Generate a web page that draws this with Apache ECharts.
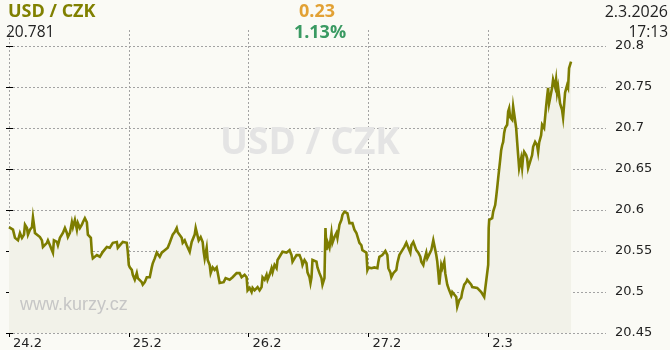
<!DOCTYPE html>
<html><head><meta charset="utf-8">
<script src="https://cdn.jsdelivr.net/npm/echarts@6/dist/echarts.min.js"></script>
<style>html,body{margin:0;padding:0;background:#fafaf5}#c{width:670px;height:350px}</style>
</head><body><div id="c"></div>
<script>
// Trading-day start positions (hours on a compressed trading timeline) and their labels
const dayStarts = [0, 24, 48, 72, 96];
const dayLabels = ['24.2', '25.2', '26.2', '27.2', '2.3'];
const yTicks = [20.45, 20.5, 20.55, 20.6, 20.65, 20.7, 20.75, 20.8];

// Header info
const pairName = 'USD / CZK';
const lastRate = '20.781';
const change = '0.23';
const changePct = '1.13%';
const lastDate = '2.3.2026';
const lastTime = '17:13';

// time (hours since 24.2 00:00, weekend removed)
const hours = [
 0.0,0.2,0.8,1.2,1.8,2.2,2.6,3.0,3.2,3.6,3.8,4.2,4.6,4.8,5.0,5.2,5.6,6.2,6.6,6.8,7.6,7.8,8.2,8.6,8.8,9.0,9.6,9.8,10.2,10.8,11.2,11.6,11.8,12.2,12.6,12.8,13.2,13.6,13.8,14.2,14.6,14.8,15.2,15.6,15.8,16.0,16.4,16.6,16.8,17.6,18.2,18.8,19.2,19.6,20.2,20.8,21.6,21.8,22.2,22.8,23.6,23.8,
 24.0,24.2,24.6,24.8,25.2,25.6,25.8,26.2,26.6,26.8,27.2,27.6,27.8,28.2,28.6,28.8,29.2,29.6,29.8,30.2,30.6,31.2,31.8,32.2,32.6,32.8,33.2,33.6,33.8,34.2,34.6,34.8,35.2,35.6,35.8,36.2,36.6,36.8,37.2,37.4,37.6,38.0,38.4,38.8,39.0,39.2,39.6,39.8,40.2,40.4,40.8,41.2,41.6,41.8,42.2,42.6,43.0,43.4,43.8,44.2,44.8,45.6,46.2,46.6,47.2,47.6,
 47.8,48.2,48.6,48.8,49.2,49.6,49.8,50.2,50.6,50.8,51.2,51.6,51.8,52.2,52.6,52.8,53.2,53.6,53.8,54.2,54.6,54.8,55.2,55.6,55.8,56.2,56.6,56.8,57.2,57.6,57.8,58.2,58.6,58.8,59.2,59.6,59.8,60.2,60.4,60.6,60.8,61.2,61.6,61.8,62.2,62.6,62.8,63.2,63.4,63.6,63.8,64.2,64.6,64.8,65.2,65.6,65.8,66.2,66.6,66.8,67.2,67.6,67.8,68.2,68.6,68.8,69.2,69.6,69.8,70.2,70.6,70.8,71.2,71.6,
 71.8,72.0,72.6,72.8,73.2,73.6,73.8,74.0,74.2,74.6,74.8,75.2,75.4,75.8,76.0,76.4,76.6,77.0,77.6,77.8,78.2,78.6,78.8,79.2,79.6,79.8,80.0,80.4,80.6,81.0,81.6,82.0,82.4,82.6,83.0,83.2,83.6,83.8,84.2,84.6,84.8,85.0,85.4,85.6,85.8,86.0,86.2,86.6,86.8,87.2,87.4,87.8,88.2,88.6,88.8,89.2,89.6,89.8,90.2,90.6,90.8,91.2,91.6,91.8,92.2,92.6,92.8,93.2,93.8,94.2,94.6,94.8,95.2,95.6,
 96.0,96.1,96.2,96.8,97.0,97.4,97.6,97.8,98.0,98.4,98.6,98.8,99.0,99.2,99.4,99.8,100.0,100.2,100.4,100.8,101.0,101.4,101.6,101.8,102.0,102.2,102.6,102.8,103.0,103.2,103.6,103.8,104.0,104.4,104.8,105.0,105.4,105.8,106.0,106.2,106.6,106.8,107.2,107.6,107.8,108.0,108.2,108.6,108.8,109.0,109.4,109.6,109.8,110.0,110.4,110.8,111.0,111.2,111.4,111.8,112.0,112.2,112.6
];
const rates = [
 20.579,20.577,20.576,20.566,20.563,20.572,20.566,20.570,20.582,20.578,20.570,20.576,20.579,20.591,20.582,20.572,20.570,20.567,20.563,20.555,20.560,20.563,20.557,20.551,20.548,20.563,20.561,20.557,20.566,20.572,20.578,20.572,20.567,20.572,20.585,20.579,20.588,20.576,20.584,20.578,20.582,20.585,20.590,20.585,20.570,20.572,20.566,20.548,20.541,20.545,20.543,20.549,20.548,20.555,20.554,20.560,20.561,20.554,20.555,20.561,20.560,20.549,
 20.533,20.530,20.527,20.521,20.515,20.523,20.517,20.515,20.512,20.509,20.512,20.518,20.517,20.518,20.530,20.535,20.541,20.548,20.549,20.543,20.548,20.551,20.554,20.560,20.560,20.570,20.573,20.578,20.573,20.572,20.566,20.560,20.563,20.557,20.557,20.549,20.561,20.561,20.570,20.578,20.576,20.563,20.567,20.561,20.549,20.541,20.554,20.539,20.533,20.523,20.530,20.527,20.530,20.524,20.511,20.509,20.512,20.517,20.518,20.515,20.518,20.523,20.523,20.518,20.521,20.518,
 20.502,20.505,20.500,20.505,20.502,20.500,20.506,20.502,20.506,20.518,20.515,20.521,20.515,20.521,20.529,20.524,20.533,20.529,20.539,20.543,20.545,20.549,20.551,20.548,20.549,20.551,20.545,20.537,20.541,20.545,20.543,20.545,20.539,20.533,20.539,20.535,20.524,20.518,20.511,20.518,20.539,20.537,20.537,20.530,20.523,20.517,20.509,20.517,20.578,20.551,20.561,20.554,20.572,20.560,20.567,20.572,20.566,20.582,20.588,20.594,20.598,20.600,20.596,20.584,20.582,20.584,20.576,20.572,20.570,20.560,20.557,20.551,20.549,20.548,
 20.527,20.530,20.529,20.527,20.530,20.529,20.529,20.537,20.543,20.541,20.545,20.543,20.550,20.545,20.529,20.524,20.518,20.523,20.527,20.535,20.545,20.543,20.551,20.555,20.560,20.562,20.554,20.548,20.557,20.561,20.551,20.548,20.543,20.537,20.533,20.539,20.548,20.541,20.543,20.551,20.557,20.563,20.561,20.545,20.537,20.524,20.509,20.533,20.529,20.537,20.523,20.509,20.502,20.496,20.500,20.502,20.494,20.482,20.490,20.493,20.500,20.509,20.512,20.515,20.515,20.509,20.506,20.506,20.505,20.505,20.500,20.499,20.494,20.496,
 20.533,20.578,20.588,20.590,20.598,20.606,20.616,20.627,20.639,20.661,20.673,20.679,20.683,20.694,20.700,20.704,20.720,20.724,20.713,20.710,20.726,20.728,20.700,20.683,20.667,20.651,20.663,20.652,20.665,20.671,20.667,20.663,20.651,20.659,20.667,20.677,20.683,20.679,20.671,20.682,20.691,20.704,20.700,20.726,20.738,20.749,20.730,20.728,20.749,20.759,20.750,20.759,20.743,20.750,20.730,20.722,20.713,20.728,20.743,20.752,20.749,20.773,20.781
];

const chart = echarts.init(document.getElementById('c'), null, {renderer: 'canvas'});
const data = hours.map((h, i) => [h, rates[i]]);
const gridColor = '#a3a3a3';
const axisFont = '"DejaVu Sans", Verdana, sans-serif';
const headFont = '"Open Sans", sans-serif';

chart.setOption({
  backgroundColor: '#fafaf5',
  animation: false,
  grid: {left: 9, right: 64, top: 30, bottom: 17, containLabel: false},
  xAxis: {
    type: 'value', min: 0, max: 119.6,
    axisLine: {show: false},
    axisTick: {show: true, length: 4, lineStyle: {color: '#000'}, customValues: dayStarts},
    axisLabel: {customValues: dayStarts, color: '#222', fontFamily: axisFont, fontSize: 13,
      align: 'left', margin: 4, padding: [0, 0, 0, 4],
      formatter: v => { const i = dayStarts.indexOf(v); return i >= 0 ? dayLabels[i] : ''; }},
    splitLine: {show: true, lineStyle: {color: gridColor, type: [2, 2], width: 1}}
  },
  yAxis: [{
    type: 'value', position: 'right', min: 20.45, max: 20.8 + 16 / 820,
    axisLine: {show: false},
    axisTick: {show: true, inside: true, length: 3, lineStyle: {color: '#000'}, customValues: yTicks},
    axisLabel: {customValues: yTicks, color: '#222', fontFamily: axisFont, fontSize: 13, margin: 9,
      formatter: v => String(+(+v).toFixed(2))},
    splitLine: {show: true, lineStyle: {color: gridColor, type: [2, 2], width: 1}}
  }, {
    type: 'value', position: 'left', min: 20.45, max: 20.8 + 16 / 820,
    axisLine: {show: false},
    axisTick: {show: true, inside: true, length: 4, lineStyle: {color: '#000'}, customValues: yTicks},
    axisLabel: {show: false},
    splitLine: {show: false}
  }],
  series: [{
    type: 'line', data: data, yAxisIndex: 0, showSymbol: false, symbol: 'none',
    lineStyle: {color: '#7d7d00', width: 2.6, join: 'miter'},
    areaStyle: {color: '#f2f2e9', opacity: 1, origin: 'start'},
    z: 3
  }],
  graphic: {elements: [
    {type: 'text', z: 100, style: {text: pairName, x: 310, y: 143, align: 'center', verticalAlign: 'middle', font: 'bold 37px ' + headFont, fill: '#e4e4e4'}},
    {type: 'text', z: 100, style: {text: 'www.kurzy.cz', x: 20, y: 305, align: 'left', verticalAlign: 'middle', font: '18px "Liberation Sans", Arial, sans-serif', fill: '#c6c6c6'}},
    {type: 'text', z: 100, style: {text: pairName, x: 8, y: 12, align: 'left', verticalAlign: 'middle', font: 'bold 18px ' + headFont, fill: '#808000'}},
    {type: 'text', z: 100, style: {text: change, x: 317, y: 12, align: 'center', verticalAlign: 'middle', font: 'bold 18px ' + headFont, fill: '#e2a134'}},
    {type: 'text', z: 100, style: {text: lastDate, x: 668, y: 12, align: 'right', verticalAlign: 'middle', font: '16px ' + headFont, fill: '#222'}},
    {type: 'text', z: 100, style: {text: lastRate, x: 6, y: 33, align: 'left', verticalAlign: 'middle', font: '15.5px ' + headFont, fill: '#222'}},
    {type: 'text', z: 100, style: {text: changePct, x: 320, y: 33, align: 'center', verticalAlign: 'middle', font: 'bold 18px ' + headFont, fill: '#3a9a62'}},
    {type: 'text', z: 100, style: {text: lastTime, x: 668, y: 33, align: 'right', verticalAlign: 'middle', font: '15.5px ' + headFont, fill: '#222'}}
  ]}
});
</script></body></html>
